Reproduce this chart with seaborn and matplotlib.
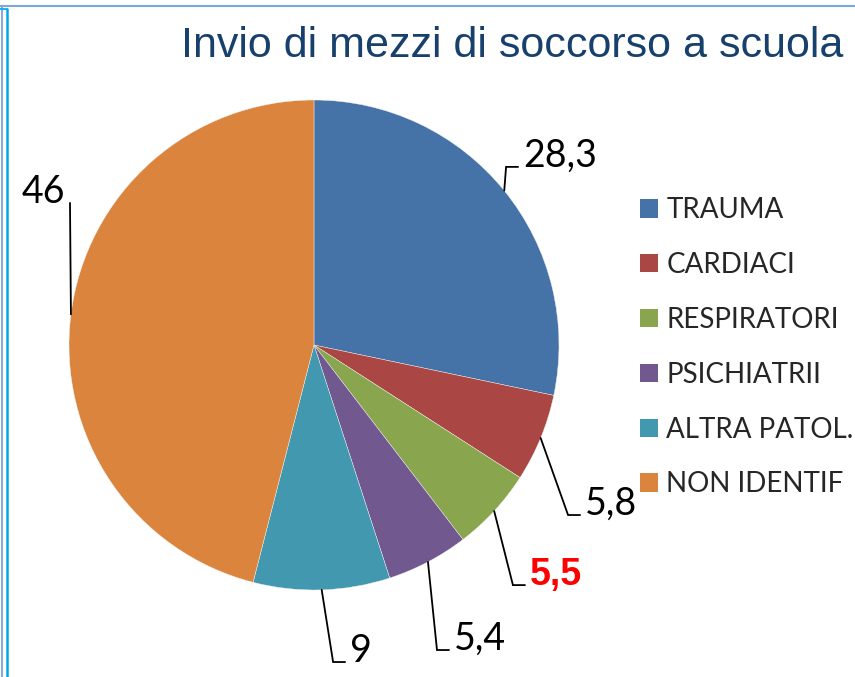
import seaborn as sns
import matplotlib.pyplot as plt
from matplotlib.lines import Line2D
import numpy as np

categories = ["TRAUMA", "CARDIACI", "RESPIRATORI", "PSICHIATRII", "ALTRA PATOL.", "NON IDENTIF"]
values = [28.3, 5.8, 5.5, 5.4, 9, 46]
value_labels = ["28,3", "5,8", "5,5", "5,4", "9", "46"]

colors = ["#4572A7", "#AA4643", "#89A54E", "#71588F", "#4198AF", "#DB843D"]

# where each label's leader line bends (pie radius units) and which side the text sits on
elbows = [(0.784, 0.727), (1.037, -0.694), (0.812, -0.980),
          (0.502, -1.245), (0.078, -1.294), (-0.996, 0.580)]
sides = ["right", "right", "right", "right", "right", "left"]
label_colors = ["black", "black", "red", "black", "black", "black"]
label_bold = [False, False, True, False, False, False]

sns.set_theme(style="white")
plt.rcParams["font.family"] = ["Lato", "DejaVu Sans"]

W, H, DPI = 855, 677, 100
R_PX = 245
CX, CY = 314, 345

fig = plt.figure(figsize=(W / DPI, H / DPI), dpi=DPI)
ax = fig.add_axes([0, 0, 1, 1])

wedges, _ = ax.pie(values, colors=sns.color_palette(colors), startangle=90,
                   counterclock=False, radius=1.0,
                   wedgeprops=dict(linewidth=0.3, edgecolor="#f4f4f4"))

ax.set_xlim(-CX / R_PX, (W - CX) / R_PX)
ax.set_ylim(-(H - CY) / R_PX, CY / R_PX)
ax.set_aspect("equal")
ax.axis("off")

# leader lines with elbow + value labels
seg = 12 / R_PX
gap = 5 / R_PX
for w, lab, (ex, ey), side, c, bold in zip(wedges, value_labels, elbows, sides,
                                           label_colors, label_bold):
    mid = np.deg2rad((w.theta1 + w.theta2) / 2)
    px, py = np.cos(mid), np.sin(mid)
    if bold:
        kw = dict(fontsize=27, fontweight="bold", family=["Liberation Sans", "DejaVu Sans"])
    else:
        kw = dict(fontsize=27)
    if side == "right":
        ax.plot([px, ex, ex + seg], [py, ey, ey], color="black", lw=1.3,
                solid_joinstyle="miter")
        ax.text(ex + seg + gap, ey, lab, ha="left", va="baseline", color=c, **kw)
    else:
        ax.plot([px, ex], [py, ey], color="black", lw=1.3)
        ax.text(ex - gap, ey, lab, ha="right", va="baseline", color=c, **kw)

leg = ax.legend(wedges, categories, loc="upper left",
                bbox_to_anchor=(640 / W, 1 - 197 / H), bbox_transform=fig.transFigure,
                frameon=False, fontsize=20, handlelength=0.65, handleheight=0.65,
                handletextpad=0.3, labelspacing=1.04, borderpad=0, borderaxespad=0)
for h in leg.legend_handles:
    h.set_edgecolor("none")

fig.text(843 / W, 1 - 46 / H, "Invio di mezzi di soccorso a scuola",
         ha="right", va="center", fontsize=31, color="#17406D",
         family=["Liberation Sans", "DejaVu Sans"])

# slide frame lines
fig.add_artist(Line2D([0, 1], [1 - 6 / H, 1 - 6 / H], color="#7AA7DD", lw=1.5))
fig.add_artist(Line2D([2 / W, 2 / W], [0, 1 - 6 / H], color="#8AAAD8", lw=1.5))
fig.add_artist(Line2D([7 / W, 7 / W], [0, 1 - 9 / H], color="#00A8E8", lw=1.8))
fig.add_artist(Line2D([0, 7 / W], [1 - 9 / H, 1 - 9 / H], color="#00A8E8", lw=1.2))

plt.savefig("out.png", dpi=DPI)
plt.close()
